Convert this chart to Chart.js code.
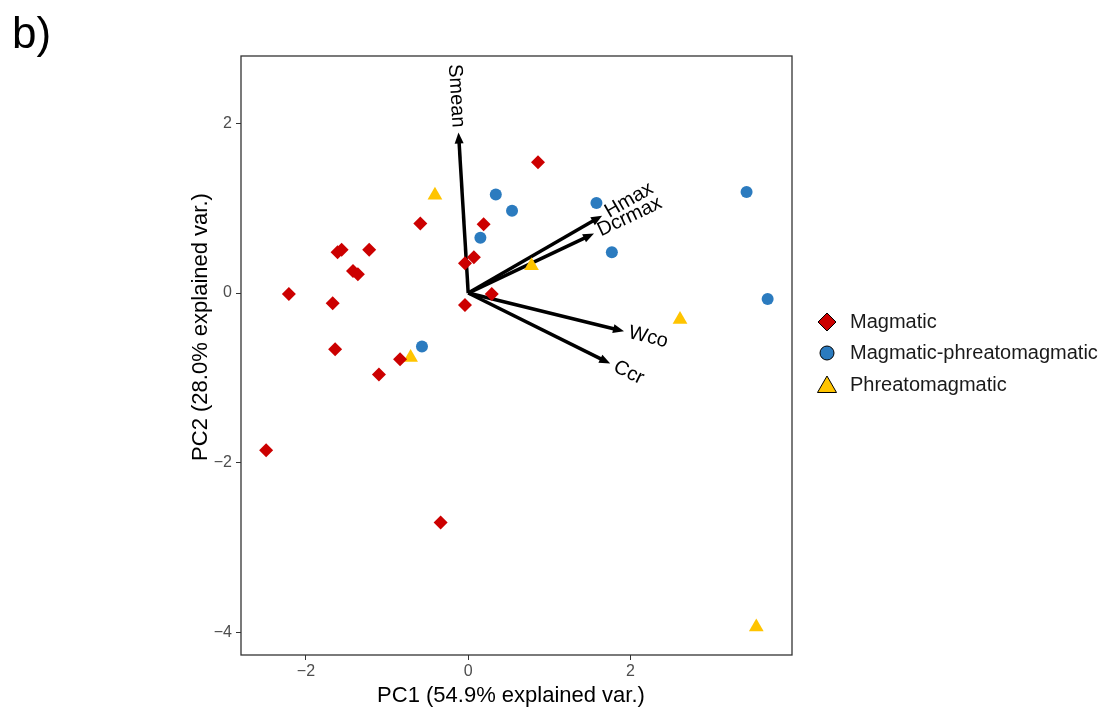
<!DOCTYPE html>
<html lang="en">
<head>
    <meta charset="UTF-8">
    <title>PCA biplot</title>
    <script src="https://cdn.jsdelivr.net/npm/chart.js"></script>
    <style>
        body { margin: 0; background: #fff; }
        #wrap { width: 1100px; height: 710px; position: relative; }
    </style>
</head>
<body>
<div id="wrap"><canvas id="biplot"></canvas></div>
<script>
// PC scores per eruption style
const magmaticX = [-2.21, -1.67, -1.56, -1.61, -1.22, -1.42, -1.36, -0.59, 0.19, 0.07, -0.04, 0.29, -0.04, 0.86, -1.64, -0.84, -1.10, -2.49, -0.34];
const magmaticY = [-0.01, -0.12, 0.51, 0.48, 0.51, 0.26, 0.22, 0.82, 0.81, 0.42, 0.35, -0.01, -0.14, 1.54, -0.66, -0.78, -0.96, -1.85, -2.70];
const mixedX = [0.34, 0.54, 0.15, 1.58, 1.77, 3.43, 3.69, -0.57];
const mixedY = [1.16, 0.97, 0.65, 1.06, 0.48, 1.19, -0.07, -0.63];
const phreatoX = [-0.41, 0.78, 2.61, -0.71, 3.55];
const phreatoY = [1.15, 0.32, -0.31, -0.76, -3.93];

// variable loadings (arrows)
const varNames = ['Smean', 'Hmax', 'Dcrmax', 'Wco', 'Ccr'];
const loadX = [-0.12, 1.65, 1.55, 1.92, 1.75];
const loadY = [1.89, 0.91, 0.70, -0.45, -0.83];

const xTicks = [-2, 0, 2];
const yTicks = [-4, -2, 0, 2];

const groups = ['Magmatic', 'Magmatic-phreatomagmatic', 'Phreatomagmatic'];
const colors = ['#CC0000', '#2B7BBF', '#FFC400'];
const shapes = ['rectRot', 'circle', 'triangle'];

const FONT = "'Liberation Sans', Arial, Helvetica, sans-serif";

function pts(xs, ys) {
    return xs.map((x, i) => ({ x: x, y: ys[i] }));
}

function minus(v) {
    return v < 0 ? '\u2212' + Math.abs(v) : String(v);
}

function shape(ctx, type, x, y, r) {
    ctx.beginPath();
    if (type === 'circle') {
        ctx.arc(x, y, r, 0, Math.PI * 2);
    } else if (type === 'rectRot') {
        ctx.moveTo(x, y - r);
        ctx.lineTo(x + r, y);
        ctx.lineTo(x, y + r);
        ctx.lineTo(x - r, y);
    } else {
        ctx.moveTo(x, y - r);
        ctx.lineTo(x + r * 0.866, y + r / 2);
        ctx.lineTo(x - r * 0.866, y + r / 2);
    }
    ctx.closePath();
}

// loading arrows + their labels, under the points
const arrowPlugin = {
    id: 'arrows',
    beforeDatasetsDraw(chart) {
        const ctx = chart.ctx;
        const xs = chart.scales.x, ys = chart.scales.y;
        const x0 = xs.getPixelForValue(0), y0 = ys.getPixelForValue(0);
        ctx.save();
        varNames.forEach((name, i) => {
            const x1 = xs.getPixelForValue(loadX[i]);
            const y1 = ys.getPixelForValue(loadY[i]);
            const ang = Math.atan2(y1 - y0, x1 - x0);
            const head = 11, half = 4.5;
            ctx.strokeStyle = '#000';
            ctx.fillStyle = '#000';
            ctx.lineWidth = 3.5;
            ctx.lineCap = 'butt';
            ctx.beginPath();
            ctx.moveTo(x0, y0);
            ctx.lineTo(x1 - Math.cos(ang) * head * 0.7, y1 - Math.sin(ang) * head * 0.7);
            ctx.stroke();
            ctx.beginPath();
            ctx.moveTo(x1, y1);
            ctx.lineTo(x1 - Math.cos(ang) * head - Math.sin(ang) * half, y1 - Math.sin(ang) * head + Math.cos(ang) * half);
            ctx.lineTo(x1 - Math.cos(ang) * head + Math.sin(ang) * half, y1 - Math.sin(ang) * head - Math.cos(ang) * half);
            ctx.closePath();
            ctx.fill();

            // label just past the tip, along the arrow direction
            const tx = x1 + Math.cos(ang) * 5, ty = y1 + Math.sin(ang) * 5;
            ctx.save();
            ctx.translate(tx, ty);
            ctx.font = '20px ' + FONT;
            ctx.textBaseline = 'middle';
            if (loadX[i] < 0) {
                ctx.rotate(ang + Math.PI);
                ctx.textAlign = 'right';
            } else {
                ctx.rotate(ang);
                ctx.textAlign = 'left';
            }
            ctx.fillText(name, 0, 0);
            ctx.restore();
        });
        ctx.restore();
    }
};

// panel frame, axis titles, legend, panel tag
const decorPlugin = {
    id: 'decor',
    afterDraw(chart) {
        const ctx = chart.ctx;
        const a = chart.chartArea;
        ctx.save();
        ctx.strokeStyle = '#333';
        ctx.lineWidth = 1.3;
        ctx.strokeRect(a.left, a.top, a.right - a.left, a.bottom - a.top);

        ctx.fillStyle = '#000';
        ctx.font = '22px ' + FONT;
        ctx.textAlign = 'center';
        ctx.textBaseline = 'middle';
        ctx.fillText('PC1 (54.9% explained var.)', 511, 696);
        ctx.save();
        ctx.translate(201, 327);
        ctx.rotate(-Math.PI / 2);
        ctx.fillText('PC2 (28.0% explained var.)', 0, 0);
        ctx.restore();

        ctx.textAlign = 'left';
        ctx.textBaseline = 'alphabetic';
        ctx.font = '44px ' + FONT;
        ctx.fillText('b)', 12, 48);

        const legY = [322, 353, 385];
        const legR = [9, 7, 11];
        groups.forEach((g, i) => {
            const cy = i === 2 ? legY[i] + 2 : legY[i];
            shape(ctx, shapes[i], 827, cy, legR[i]);
            ctx.fillStyle = colors[i];
            ctx.fill();
            ctx.strokeStyle = '#000';
            ctx.lineWidth = 1;
            ctx.stroke();
            ctx.fillStyle = '#1a1a1a';
            ctx.font = '20px ' + FONT;
            ctx.textBaseline = 'middle';
            ctx.fillText(g, 850, legY[i]);
        });
        ctx.restore();
    }
};

const tickFont = { family: FONT, size: 16 };

new Chart(document.getElementById('biplot'), {
    type: 'scatter',
    data: {
        datasets: [
            { label: groups[0], data: pts(magmaticX, magmaticY), pointStyle: shapes[0], pointRadius: 7, backgroundColor: colors[0], borderWidth: 0 },
            { label: groups[1], data: pts(mixedX, mixedY), pointStyle: shapes[1], pointRadius: 6, backgroundColor: colors[1], borderWidth: 0 },
            { label: groups[2], data: pts(phreatoX, phreatoY), pointStyle: shapes[2], pointRadius: 8.5, backgroundColor: colors[2], borderWidth: 0 }
        ]
    },
    options: {
        responsive: true,
        maintainAspectRatio: false,
        animation: false,
        layout: { padding: { top: 56, right: 308, bottom: 0, left: 0 } },
        plugins: {
            legend: { display: false },
            tooltip: { enabled: false }
        },
        scales: {
            x: {
                type: 'linear',
                min: -2.80,
                max: 3.99,
                afterBuildTicks: s => { s.ticks = xTicks.map(v => ({ value: v })); },
                afterFit: s => { s.height = 55; },
                grid: { drawOnChartArea: false, drawTicks: true, tickLength: 5, color: '#333' },
                border: { display: false },
                ticks: { font: tickFont, color: '#4D4D4D', padding: 2, callback: v => minus(v) }
            },
            y: {
                type: 'linear',
                min: -4.26,
                max: 2.79,
                afterBuildTicks: s => { s.ticks = yTicks.map(v => ({ value: v })); },
                afterFit: s => { s.width = 241; },
                grid: { drawOnChartArea: false, drawTicks: true, tickLength: 5, color: '#333' },
                border: { display: false },
                ticks: { font: tickFont, color: '#4D4D4D', padding: 4, callback: v => minus(v) }
            }
        }
    },
    plugins: [arrowPlugin, decorPlugin]
});
</script>
</body>
</html>
